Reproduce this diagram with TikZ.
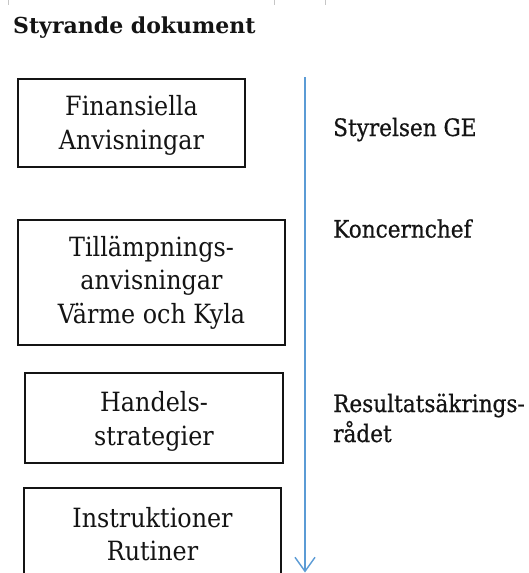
\documentclass[tikz,border=0pt]{standalone}
\usepackage{fontspec}
\usetikzlibrary{arrows.meta}
\newfontfamily\boxfont[FakeStretch=0.9]{DejaVu Serif}
\newfontfamily\lblfont[FakeStretch=0.9,FakeBold=0.6]{DejaVu Serif}
\newfontfamily\ttlfont{DejaVu Serif}
\definecolor{arrowblue}{RGB}{91,155,213}
\definecolor{ink}{RGB}{20,20,20}
\tikzset{
  docbox/.style={draw=ink, line width=1.4pt, rectangle, inner sep=0pt},
  boxtext/.style={inner sep=0pt, anchor=base, text=ink,
    font=\boxfont\fontsize{26.5}{33.5}\selectfont},
  lbltext/.style={inner sep=0pt, anchor=base west, text=ink,
    font=\lblfont\fontsize{24}{30}\selectfont},
  ttltext/.style={inner sep=0pt, anchor=base west, text=ink,
    font=\ttlfont\bfseries\fontsize{22}{26}\selectfont},
  flowline/.style={draw=arrowblue, line width=1.4pt,
    -{Straight Barb[length=14pt,width=20pt]}},
  tick/.style={draw=gray!45, line width=1pt}
}
\newcommand{\stack}[1]{\begin{tabular}[t]{@{}c@{}}#1\end{tabular}}
\begin{document}
\begin{tikzpicture}[x=1pt,y=-1pt]
\clip (0,0) rectangle (528,573);
\fill[white] (0,0) rectangle (528,573);
% faint marks at top edge
\coordinate (m1a) at (8,0);   \coordinate (m1b) at (8,5);
\coordinate (m2a) at (274,0); \coordinate (m2b) at (274,5);
\coordinate (m3a) at (325,0); \coordinate (m3b) at (325,5);
\draw[tick] (m1a) -- (m1b);
\draw[tick] (m2a) -- (m2b);
\draw[tick] (m3a) -- (m3b);
% title
\node[ttltext] (title) at (13,33) {Styrande dokument};
% boxes
\node[docbox, minimum width=227pt, minimum height=88pt] (b1) at (131.5,123) {};
\node[boxtext] (t1) at (131.5,115.7) {\stack{Finansiella\\Anvisningar}};
\node[docbox, minimum width=267pt, minimum height=125pt] (b2) at (151.5,282.5) {};
\node[boxtext] (t2) at (151.5,256) {\stack{Tillämpnings-\\anvisningar\\Värme och Kyla}};
\node[docbox, minimum width=258pt, minimum height=90pt] (b3) at (154,418) {};
\node[boxtext] (t3) at (154,411.7) {\stack{Handels-\\strategier}};
\node[docbox, minimum width=257pt, minimum height=120pt] (b4) at (152.5,548) {};
\node[boxtext] (t4) at (152.5,527) {\stack{Instruktioner\\Rutiner}};
% flow arrow
\coordinate (atop) at (305,77);
\coordinate (abot) at (305,572.5);
\draw[flowline] (atop) -- (abot);
% labels
\node[lbltext] (l1) at (333,136) {Styrelsen GE};
\node[lbltext] (l2) at (333,237.5) {Koncernchef};
\node[lbltext] (l3) at (333,412) {Resultatsäkrings-};
\node[lbltext] (l4) at (333,442) {rådet};
\end{tikzpicture}
\end{document}
